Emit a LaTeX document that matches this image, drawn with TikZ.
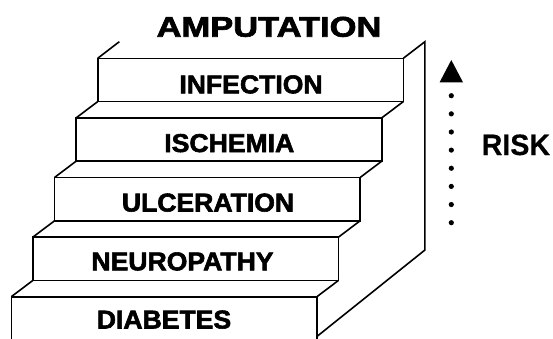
\documentclass[tikz,border=0pt]{standalone}
\usepackage{fontspec}
\newfontfamily\heavyfont{Liberation Sans}[BoldFeatures={FakeBold=2.2}]
\newfontfamily\plainfont{Liberation Sans}[BoldFeatures={FakeBold=0.4}]
\tikzset{
  edge/.style={line width=1.6pt, line join=miter, line cap=butt},
  steplabel/.style={inner sep=0pt, anchor=base, font=\heavyfont\bfseries\fontsize{25.8}{25.8}\selectfont},
}
\begin{document}
\begin{tikzpicture}[x=1pt,y=-1pt]
\useasboundingbox (0,0) rectangle (553,338);
\begin{scope}
\clip (0,0) rectangle (553,338);
% front faces
\foreach \i in {0,...,3}{
  \pgfmathsetmacro{\L}{97.7-21.6*\i}
  \pgfmathsetmacro{\R}{403.3-21.6*\i}
  \pgfmathsetmacro{\T}{58.3+59.6*\i}
  \pgfmathsetmacro{\B}{\T+43.3}
  \pgfmathsetmacro{\LL}{97.7-21.6*(\i+1)}
  \pgfmathsetmacro{\RR}{403.3-21.6*(\i+1)}
  \pgfmathsetmacro{\TT}{58.3+59.6*(\i+1)}
  \draw[edge] (\L,\T) rectangle (\R,\B);
  \draw[edge] (\L,\B) -- (\LL,\TT);
  \draw[edge] (\R,\B) -- (\RR,\TT);
}
% bottom step
\draw[edge] (11.3,345) -- (11.3,296.7) -- (316.9,296.7) -- (316.9,345);
% top back edges
\coordinate (tl) at (97.7,58.3);
\coordinate (tr) at (403.3,58.3);
\coordinate (btl) at (119.3,41.7);
\coordinate (btr) at (424.9,41.7);
\coordinate (bbr) at (424.9,250);
\coordinate (bfr) at (316.9,336.5);
\draw[edge] (tl) -- (btl);
\draw[edge] (tr) -- (btr) -- (bbr) -- (bfr);
\end{scope}
% labels
\node[steplabel] (infection) at (251,93.3) {\scalebox{1.03}[1]{INFECTION}};
\node[steplabel] (ischemia) at (229.3,152) {\scalebox{1.03}[1]{ISCHEMIA}};
\node[steplabel] (ulceration) at (208,211.5) {\scalebox{1.03}[1]{ULCERATION}};
\node[steplabel] (neuropathy) at (182.5,270.3) {\scalebox{1.03}[1]{NEUROPATHY}};
\node[steplabel] (diabetes) at (164,328.5) {\scalebox{1.03}[1]{DIABETES}};
\node[inner sep=0pt, anchor=base, font=\heavyfont\bfseries\fontsize{28.5}{28.5}\selectfont] (amputation) at (269,36.7) {\scalebox{1.21}[1]{AMPUTATION}};
\node[inner sep=0pt, anchor=base west, font=\plainfont\bfseries\fontsize{29.5}{29.5}\selectfont] (risk) at (481.5,155) {\scalebox{0.97}[1]{RISK}};
% risk arrow
\coordinate (apex) at (451.3,60);
\fill (apex) -- (463,82.3) -- (439.6,82.3) -- cycle;
\foreach \k in {0,...,7}{
  \fill (451.3,95.7+18.14*\k) circle (2.6);
}
\end{tikzpicture}
\end{document}
